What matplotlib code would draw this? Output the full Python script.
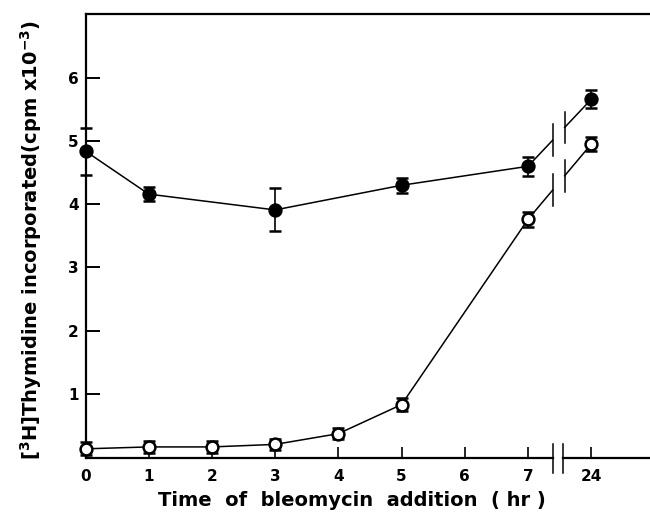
import numpy as np
import matplotlib.pyplot as plt

# time points (24 h is drawn at position 8 after the axis break)
x_labels = ['0', '1', '2', '3', '4', '5', '6', '7', '24']
pos_filled = [0, 1, 3, 5, 7, 8]
y_filled = [4.84, 4.16, 3.91, 4.30, 4.60, 5.66]
e_filled = [0.37, 0.11, 0.34, 0.12, 0.15, 0.14]

pos_open = [0, 1, 2, 3, 4, 5, 7, 8]
y_open = [0.13, 0.16, 0.16, 0.20, 0.37, 0.83, 3.76, 4.95]
e_open = [0.10, 0.09, 0.09, 0.09, 0.09, 0.10, 0.12, 0.11]

brk_a, brk_b = 7.39, 7.58   # gap in the line / axis

fig = plt.figure(figsize=(6.5, 5.16), dpi=100)
ax = fig.add_axes([85.5/650, (516-458.3)/516, 1-85.5/650, (458.3-14)/516])

lw = 1.1
for px, py, pe, fc in [(pos_filled, y_filled, e_filled, 'black'),
                       (pos_open, y_open, e_open, 'white')]:
    px = np.array(px, float); py = np.array(py)
    ax.errorbar(px, py, yerr=pe, fmt='none', ecolor='black', elinewidth=1.2,
                capsize=4.5, capthick=1.8, clip_on=False, zorder=3)
    # line up to the break, then from the break on to 24 h
    ya = np.interp(brk_a, px, py)
    yb = np.interp(brk_b, px, py)
    m = px <= 7
    ax.plot(list(px[m]) + [brk_a], list(py[m]) + [ya], color='black', lw=lw, zorder=2, clip_on=False)
    ax.plot([brk_b, 8], [yb, py[-1]], color='black', lw=lw, zorder=2)
    for bx, by in [(brk_a, ya), (brk_b, yb)]:
        ax.plot([bx, bx], [by - 0.25, by + 0.25], color='black', lw=lw, zorder=2)
    ax.plot(px, py, 'o', ms=8.5, mfc=fc, mec='black', mew=1.8, zorder=4, clip_on=False)

ax.set_xlim(0, 8.93)
ax.set_ylim(-0.02, 7.01)

for s in ['right', 'bottom']:
    ax.spines[s].set_visible(False)
for s in ['left', 'top']:
    ax.spines[s].set_linewidth(1.6)

# broken x axis drawn by hand
trans = ax.get_xaxis_transform()
ax.plot([0, brk_a], [0, 0], color='black', lw=1.6, transform=trans, clip_on=False)
ax.plot([brk_b - 0.02, 8.93], [0, 0], color='black', lw=1.6, transform=trans, clip_on=False)
for bx in [brk_a, brk_b - 0.02]:
    ax.plot([bx, bx], [-0.032, 0.032], color='black', lw=1.1, transform=trans, clip_on=False)

ax.set_xticks(range(9))
ax.set_xticklabels(x_labels, fontsize=11, fontweight='bold')
ax.set_yticks(range(1, 7))
ax.set_yticklabels([str(i) for i in range(1, 7)], fontsize=11, fontweight='bold')
ax.tick_params(axis='x', direction='in', length=8, width=1.2, pad=8)
ax.tick_params(axis='y', direction='in', length=10, width=1.4, pad=5)

fig.text(352/650, 1 - 500/516, 'Time  of  bleomycin  addition  ( hr )', fontsize=14,
         fontweight='bold', ha='center', va='center')
fig.text(31/650, 1 - 240/516, r'[$^{\mathbf{3}}$H]Thymidine incorporated(cpm x10$^{\mathbf{-3}}$)',
         rotation=90, fontsize=14, fontweight='bold', ha='center', va='center')

fig.savefig('out.png', dpi=100)
